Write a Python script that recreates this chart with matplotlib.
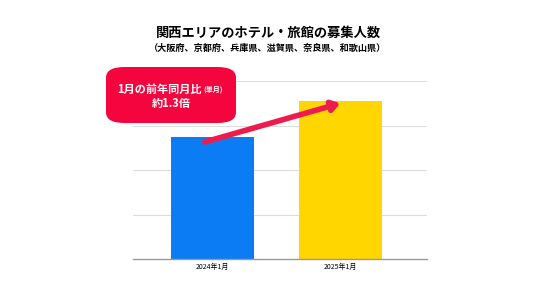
import matplotlib.pyplot as plt
from matplotlib.patches import FancyBboxPatch

plt.rcParams['font.family'] = ['Noto Sans CJK JP', 'DejaVu Sans']

categories = ['2024年1月', '2025年1月']
values = [2.74, 3.55]
bar_colors = ['#0B7CF4', '#FFD600']

fig = plt.figure(figsize=(5.36, 3.02), dpi=100)
ax = fig.add_axes([133 / 536, 1 - 259 / 302, 294 / 536, 178 / 302])

ax.bar(range(len(values)), values, width=0.65, color=bar_colors, zorder=2)
ax.set_xlim(-0.62, 1.676)
ax.set_ylim(0, 4)
ax.set_yticks([1, 2, 3, 4])
ax.yaxis.grid(True, color='#dddddd', lw=0.8)
ax.tick_params(axis='y', length=0, labelleft=False)
ax.set_xticks(range(len(categories)))
ax.set_xticklabels(categories, fontsize=5)
ax.tick_params(axis='x', length=0, pad=3)
for s in ['top', 'right', 'left']:
    ax.spines[s].set_visible(False)
ax.spines['bottom'].set_color('#999999')
ax.spines['bottom'].set_linewidth(1)

fig.text(0.5, 1 - 33 / 302, '関西エリアのホテル・旅館の募集人数', ha='center', va='center',
         fontsize=9.5, fontweight='bold')
fig.text(0.5, 1 - 48 / 302, '（大阪府、京都府、兵庫県、滋賀県、奈良県、和歌山県）', ha='center',
         va='center', fontsize=6.6, fontweight='bold')

# 青い棒の上から黄色い棒の上への矢印
ax.annotate('', xy=(1.0, 3.5), xytext=(-0.06, 2.63),
            arrowprops=dict(arrowstyle='-|>,head_length=0.45,head_width=0.3',
                            color='#EE1C4C', lw=4, shrinkA=0, shrinkB=0), zorder=4)

box = FancyBboxPatch((106 / 536, 1 - 123 / 302), 130 / 536, 56 / 302,
                     boxstyle='round,pad=0,rounding_size=0.035', transform=fig.transFigure,
                     facecolor='#F5053D', edgecolor='none', zorder=5)
fig.patches.append(box)
fig.text(202 / 536, 1 - 89 / 302, '1月の前年同月比', ha='right', va='center', color='white',
         fontsize=8, fontweight='bold', zorder=6)
fig.text(203 / 536, 1 - 89 / 302, '(単月)', ha='left', va='center', color='white',
         fontsize=5, fontweight='bold', zorder=6)
fig.text(171 / 536, 1 - 103 / 302, '約1.3倍', ha='center', va='center', color='white',
         fontsize=8, fontweight='bold', zorder=6)

fig.savefig('out.png', dpi=100)
